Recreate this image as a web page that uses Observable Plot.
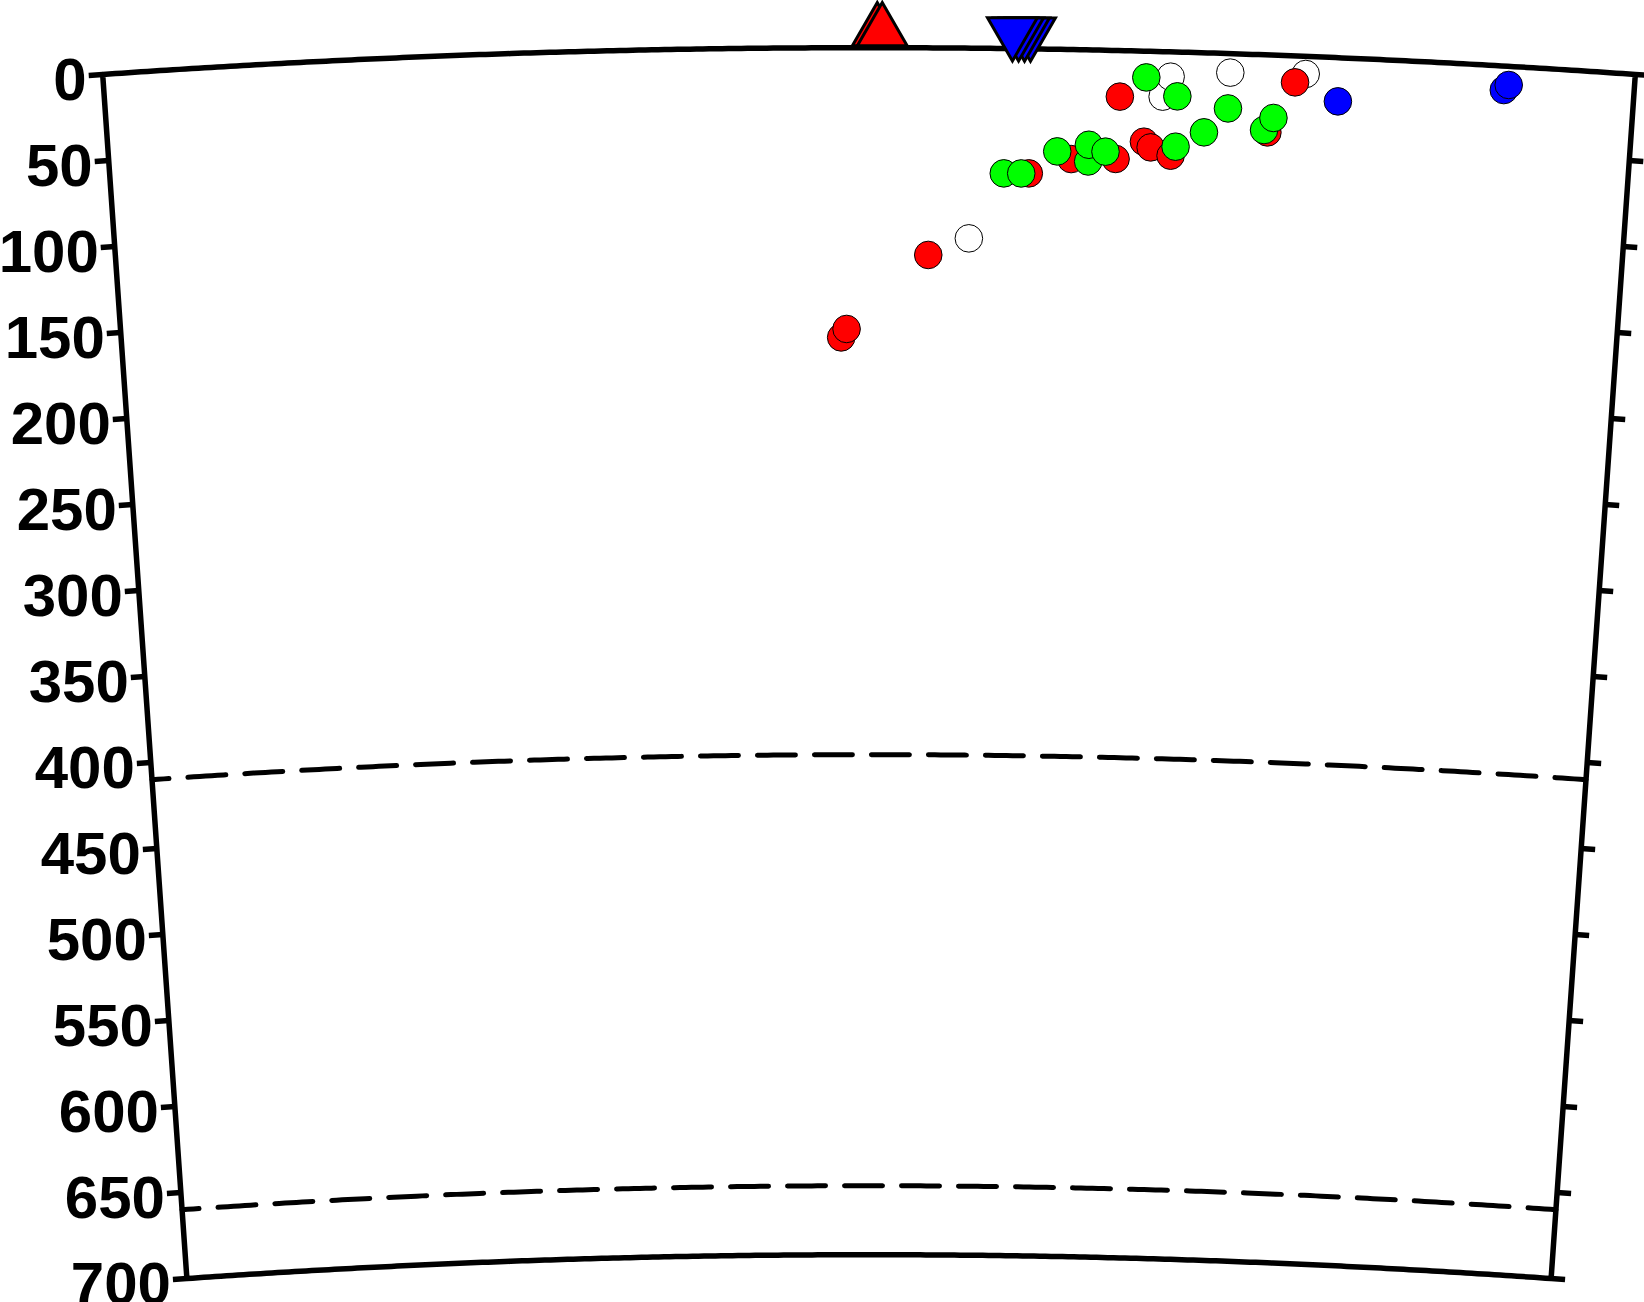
<!DOCTYPE html>
<html><head><meta charset="utf-8">
<script src="https://cdn.jsdelivr.net/npm/d3@7"></script>
<script src="https://cdn.jsdelivr.net/npm/@observablehq/plot@0.6"></script>
<style>html,body{margin:0;padding:0;background:#fff;} #chart svg{display:block;}</style>
</head><body><div id="chart"></div>
<script>
// ---- data (distance along section in degrees from left edge, depth in km) ----
const sectionDist = [0, 8];
const maxDepth = 700;
const depthTicks = [0, 50, 100, 150, 200, 250, 300, 350, 400, 450, 500, 550, 600, 650, 700];
const discontinuityDepths = [410, 660];

const whiteDist  = [5.538, 5.577, 5.888, 6.282, 4.530];
const whiteDepth = [26.1, 14.4, 11.0, 10.2, 110.3];

const redDist  = [5.314, 6.228, 6.093, 5.446, 5.482, 5.588, 5.065, 5.299, 4.843, 4.315, 3.851, 3.880];
const redDepth = [26.7, 15.3, 44.9, 52.5, 55.7, 60.2, 63.5, 62.9, 72.2, 120.1, 168.0, 163.1];

const greenDist  = [5.450, 5.615, 5.882, 5.760, 6.075, 6.122, 5.613, 4.991, 5.155, 5.157, 5.245, 4.711, 4.803];
const greenDepth = [15.2, 25.7, 31.8, 46.1, 43.6, 36.4, 54.9, 59.2, 64.7, 55.0, 58.8, 72.4, 72.3];

const blueDist  = [6.456, 7.320, 7.344];
const blueDepth = [25.3, 13.9, 10.8];

const upTriDist  = [4.043, 4.069];
const upTriDepth = [-9.5, -9.5];
const downTriDist  = [4.841, 4.810, 4.779, 4.747];
const downTriDepth = [-9.5, -9.5, -9.5, -9.5];

// ---- layout ----
const W = 1644, H = 1302;
const R = 6371;          // earth radius km
const K = 1.7243;        // px per km
const CX = 868.5;        // px of section centre line
const CY = 47.2 + R * K; // px of earth centre
const mid = (sectionDist[0] + sectionDist[1]) / 2;

function xy(dist, depth) {
  const t = (dist - mid) * Math.PI / 180;
  const r = R - depth;
  return {x: r * Math.sin(t), y: r * Math.cos(t)};
}
const pts = (dist, depth) => dist.map((d, i) => xy(d, depth[i]));
function arc(depth, from, to) {
  const n = 240;
  return d3.range(n + 1).map(i => xy(from + (to - from) * i / n, depth));
}
// closed frame
const frame = [
  ...arc(0, sectionDist[0], sectionDist[1]),
  ...arc(maxDepth, sectionDist[1], sectionDist[0]),
  xy(sectionDist[0], 0)
];
const tickLen = 14 / K;
function ticks(side) {
  const dist = side < 0 ? sectionDist[0] : sectionDist[1];
  const t = (dist - mid) * Math.PI / 180;
  return depthTicks.map(d => {
    const p = xy(dist, d);
    const ux = side * Math.cos(t), uy = -side * Math.sin(t);
    return {x1: p.x, y1: p.y, x2: p.x + ux * tickLen, y2: p.y + uy * tickLen, label: String(d)};
  });
}
const leftTicks = ticks(-1), rightTicks = ticks(1);

const triangleDown = {
  draw(context, size) {
    const y = Math.sqrt(size / (3 * Math.sqrt(3)));
    context.moveTo(0, 2 * y);
    context.lineTo(-Math.sqrt(3) * y, -y);
    context.lineTo(Math.sqrt(3) * y, -y);
    context.closePath();
  }
};

const circleStyle = {x: "x", y: "y", r: 13.8, stroke: "black", strokeWidth: 1};

const chart = Plot.plot({
  width: W, height: H, margin: 0,
  style: {background: "white", overflow: "visible"},
  x: {domain: [-CX / K, (W - CX) / K], axis: null},
  y: {domain: [(CY - H) / K, CY / K], axis: null},
  marks: [
    ...discontinuityDepths.map(d => Plot.line(arc(d, sectionDist[0], sectionDist[1]), {
      x: "x", y: "y", stroke: "black", strokeWidth: 5,
      strokeDasharray: "38,19", strokeDashoffset: 21
    })),
    Plot.line(frame, {x: "x", y: "y", stroke: "black", strokeWidth: 5.5, strokeLinejoin: "miter"}),
    Plot.link(leftTicks, {x1: "x1", y1: "y1", x2: "x2", y2: "y2", stroke: "black", strokeWidth: 5.5}),
    Plot.link(rightTicks, {x1: "x1", y1: "y1", x2: "x2", y2: "y2", stroke: "black", strokeWidth: 5.5}),
    Plot.text(leftTicks, {
      x: "x2", y: "y2", text: "label", textAnchor: "end", lineAnchor: "middle",
      dx: -2, dy: 5, fontSize: 60, fontWeight: "bold",
      fontFamily: "'Liberation Sans', Arial, Helvetica, sans-serif", fill: "black"
    }),
    Plot.dot(pts(whiteDist, whiteDepth), {...circleStyle, fill: "#ffffff"}),
    Plot.dot(pts(redDist, redDepth), {...circleStyle, fill: "#ff0000"}),
    Plot.dot(pts(greenDist, greenDepth), {...circleStyle, fill: "#00ff00"}),
    Plot.dot(pts(blueDist, blueDepth), {...circleStyle, fill: "#0000ff"}),
    Plot.dot(pts(upTriDist, upTriDepth), {x: "x", y: "y", symbol: "triangle", r: 18.5, fill: "#ff0000", stroke: "black", strokeWidth: 3}),
    Plot.dot(pts(downTriDist, downTriDepth), {x: "x", y: "y", symbol: triangleDown, r: 18.5, fill: "#0000ff", stroke: "black", strokeWidth: 3})
  ]
});
document.getElementById("chart").appendChild(chart);
</script>
</body></html>
